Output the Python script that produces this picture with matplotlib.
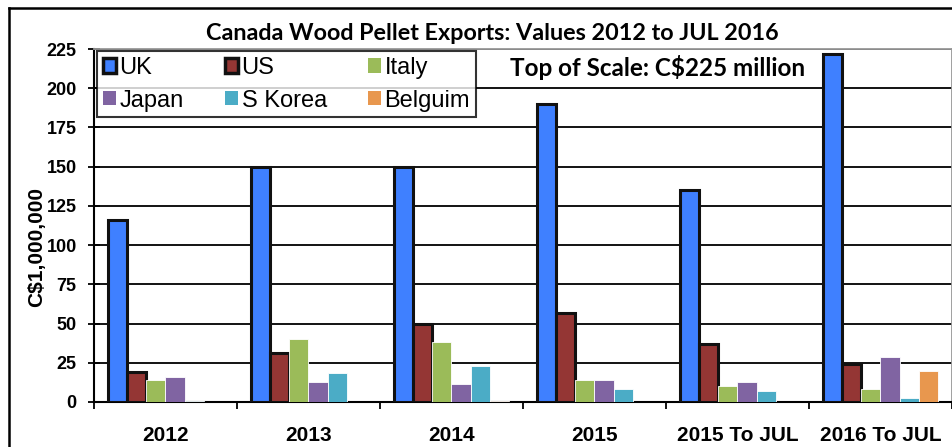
import matplotlib
matplotlib.use("Agg")
import matplotlib.pyplot as plt
import numpy as np
from matplotlib.patches import Patch
from matplotlib.lines import Line2D

# data (C$ millions)
categories = ["2012", "2013", "2014", "2015", "2015 To JUL", "2016 To JUL"]
countries = ["UK", "US", "Italy", "Japan", "S Korea", "Belguim"]
uk = [116, 150, 150, 190, 135, 222]
us = [19, 31, 50, 57, 37, 24]
italy = [14, 40, 38.5, 14, 10, 8.6]
japan = [16, 13, 11.4, 14, 12.8, 28.6]
s_korea = [0.6, 18.5, 22.7, 8.6, 7.1, 2.7]
belgium = [0, 0, 0.5, 0, 0, 20]
colors = ["#3F80FF", "#943634", "#9BBB59", "#8064A2", "#4BACC6", "#E8974E"]

series = [uk, us, italy, japan, s_korea, belgium]

fig = plt.figure(figsize=(9.53, 4.47), dpi=100)
ax = fig.add_axes([94 / 953, 1 - 402 / 447, (952 - 94) / 953, (402 - 49) / 447])

x = np.arange(len(categories))
w = 0.8 / len(series)
for i, (vals, col) in enumerate(zip(series, colors)):
    pos = x - 0.4 + w * (i + 0.5)
    if i < 2:
        # UK and US bars have the heavy black outline
        ax.bar(pos, vals, w, color=col, edgecolor="#111111", linewidth=2.2, zorder=3)
    else:
        ax.bar(pos, vals, w, color=col, edgecolor="white", linewidth=0.6, zorder=3)

ax.set_xlim(-0.5, len(categories) - 0.5)
ax.set_ylim(0, 225)
ax.set_yticks(np.arange(0, 226, 25))
ax.yaxis.grid(True, color="black", linewidth=1.3, zorder=1)
ax.set_axisbelow(True)

ax.set_xticks(x)
ax.set_xticklabels(categories, fontsize=15, fontweight="bold", family="Liberation Sans")
ax.tick_params(axis="x", which="major", length=0, pad=17)
ax.set_xticks(np.arange(-0.5, len(categories), 1), minor=True)
ax.tick_params(axis="x", which="minor", length=5, width=1.3, direction="out")
ax.tick_params(axis="y", direction="inout", length=9, width=1.3, pad=8)
for lab in ax.get_yticklabels():
    lab.set_fontsize(13)
    lab.set_fontweight("bold")
    lab.set_family("Liberation Sans")

for s in ["left", "bottom"]:
    ax.spines[s].set_color("black")
    ax.spines[s].set_linewidth(1.5)
for s in ["top", "right"]:
    ax.spines[s].set_color("#999999")
    ax.spines[s].set_linewidth(1.3)

ax.set_ylabel("C$1,000,000", fontsize=15, fontweight="bold", family="Liberation Sans",
              labelpad=0, y=0.44)

# legend, row order UK US Italy / Japan S Korea Belguim
handles = []
for i, (name, col) in enumerate(zip(countries, colors)):
    if i < 2:
        handles.append(Patch(facecolor=col, edgecolor="#111111", linewidth=2.5, label=name))
    else:
        handles.append(Patch(facecolor=col, edgecolor="none", label=name))
order = [0, 3, 1, 4, 2, 5]
leg = ax.legend([handles[k] for k in order], [countries[k] for k in order],
                ncol=3, loc="upper left", bbox_to_anchor=(97 / 953, 1 - 51 / 447),
                bbox_transform=fig.transFigure, prop={"family": "Liberation Sans", "size": 17},
                frameon=True, fancybox=False, handlelength=0.55, handleheight=0.55,
                handletextpad=0.15, columnspacing=1.75, labelspacing=0.45,
                borderpad=0.25, borderaxespad=0)
leg.get_frame().set_edgecolor("black")
leg.get_frame().set_linewidth(1.5)
leg.set_zorder(5)

fig.text(492 / 953, 1 - 33 / 447, "Canada Wood Pellet Exports: Values 2012 to JUL 2016",
         ha="center", va="center", fontsize=16.8, fontweight="bold", family="Lato")
ax.text(658 / 953, 1 - 68 / 447, "Top of Scale: C$225 million", transform=fig.transFigure,
        ha="center", va="center", fontsize=17.5, fontweight="bold", family="Lato", zorder=6)

# outer chart frame (left and top edges visible)
fig.add_artist(Line2D([9 / 953, 9 / 953], [0, 1 - 8 / 447], color="black", linewidth=1.8))
fig.add_artist(Line2D([9 / 953, 1], [1 - 8 / 447, 1 - 8 / 447], color="black", linewidth=1.8))

fig.savefig("out.png", dpi=100)
